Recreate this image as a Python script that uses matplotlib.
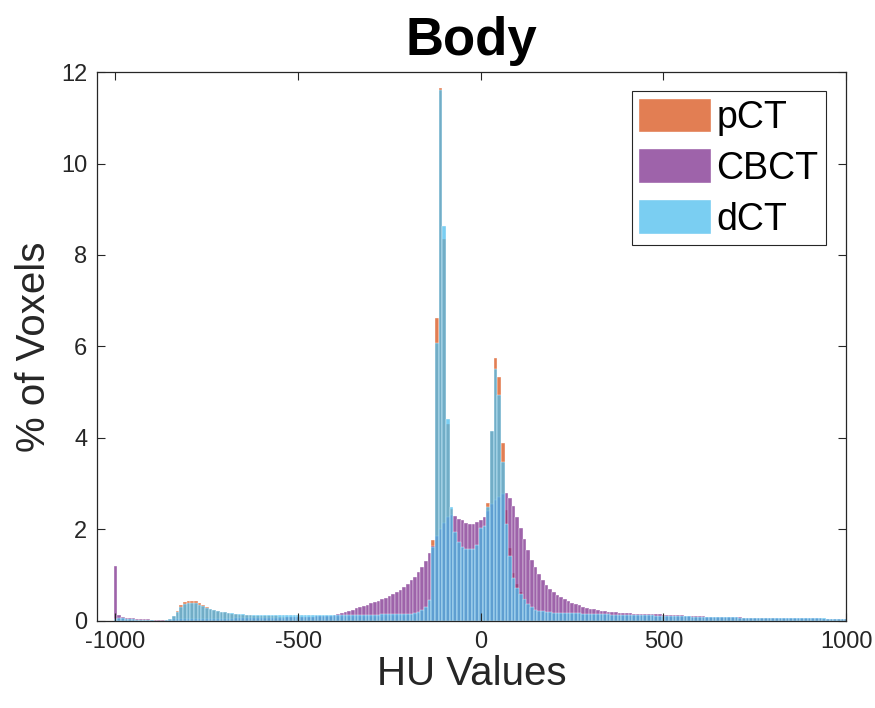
import numpy as np
import matplotlib
matplotlib.use("Agg")
import matplotlib.pyplot as plt

# bin centres, 10 HU wide, -1000 ... 1000
hu_centres = np.arange(-1000, 1001, 10)

# % of voxels per bin (rows of 10 bins = 100 HU)
pct_pCT = [
    0.05, 0.06, 0.05, 0.05, 0.04, 0.04, 0.03, 0.03, 0.02, 0.02,   # -1000
    0.02, 0.01, 0.01, 0.01, 0.02, 0.04, 0.10, 0.21, 0.34, 0.41,   # -900
    0.44, 0.44, 0.43, 0.39, 0.34, 0.30, 0.27, 0.24, 0.22, 0.20,   # -800
    0.19, 0.17, 0.16, 0.15, 0.14, 0.13, 0.12, 0.12, 0.115, 0.11,  # -700
    0.11, 0.105, 0.10, 0.10, 0.10, 0.095, 0.09, 0.09, 0.09, 0.085,  # -600
    0.085, 0.08, 0.08, 0.08, 0.08, 0.08, 0.08, 0.08, 0.08, 0.08,  # -500
    0.08, 0.08, 0.08, 0.08, 0.08, 0.085, 0.085, 0.085, 0.09, 0.09,  # -400
    0.09, 0.09, 0.095, 0.095, 0.10, 0.10, 0.10, 0.105, 0.11, 0.11,  # -300
    0.12, 0.12, 0.13, 0.16, 0.22, 0.28, 0.44, 1.77, 6.63, 11.65,  # -200
    8.35, 4.30, 2.45, 1.93, 1.70, 1.60, 1.55, 1.55, 1.55, 1.64,   # -100
    2.02, 2.06, 2.57, 4.16, 5.74, 5.34, 3.90, 2.43, 1.59, 1.05,   # 0
    0.80, 0.64, 0.50, 0.38, 0.29, 0.24, 0.21, 0.19, 0.18, 0.17,   # 100
    0.165, 0.16, 0.16, 0.155, 0.15, 0.15, 0.145, 0.145, 0.14, 0.14,  # 200
    0.135, 0.135, 0.13, 0.13, 0.125, 0.125, 0.12, 0.12, 0.115, 0.115,  # 300
    0.11, 0.11, 0.11, 0.105, 0.105, 0.10, 0.10, 0.10, 0.095, 0.095,  # 400
    0.09, 0.09, 0.09, 0.085, 0.085, 0.085, 0.08, 0.08, 0.08, 0.08,  # 500
    0.075, 0.075, 0.075, 0.075, 0.07, 0.07, 0.07, 0.07, 0.065, 0.065,  # 600
    0.065, 0.065, 0.06, 0.06, 0.06, 0.06, 0.06, 0.055, 0.055, 0.055,  # 700
    0.055, 0.05, 0.05, 0.05, 0.05, 0.05, 0.05, 0.045, 0.045, 0.045,  # 800
    0.045, 0.045, 0.04, 0.04, 0.04, 0.04, 0.04, 0.04, 0.04, 0.04,  # 900
    0.04,                                                          # 1000
]

pct_CBCT = [
    1.21, 0.12, 0.09, 0.07, 0.07, 0.06, 0.05, 0.05, 0.04, 0.04,
    0.03, 0.03, 0.03, 0.03, 0.03, 0.03, 0.04, 0.04, 0.04, 0.05,
    0.05, 0.05, 0.05, 0.05, 0.05, 0.05, 0.05, 0.05, 0.05, 0.05,
    0.05, 0.05, 0.05, 0.06, 0.06, 0.06, 0.06, 0.06, 0.06, 0.06,
    0.06, 0.06, 0.07, 0.07, 0.07, 0.07, 0.07, 0.08, 0.08, 0.08,
    0.08, 0.08, 0.09, 0.09, 0.09, 0.10, 0.10, 0.10, 0.11, 0.11,
    0.13, 0.145, 0.17, 0.20, 0.225, 0.25, 0.28, 0.30, 0.33, 0.36,
    0.39, 0.42, 0.44, 0.47, 0.51, 0.55, 0.58, 0.63, 0.68, 0.74,
    0.81, 0.89, 0.97, 1.07, 1.19, 1.32, 1.48, 1.65, 1.85, 2.00,
    2.15, 2.28, 2.32, 2.30, 2.24, 2.21, 2.15, 2.12, 2.12, 2.16,
    2.21, 2.27, 2.40, 2.55, 2.65, 2.72, 2.77, 2.79, 2.68, 2.51,
    2.28, 2.03, 1.79, 1.55, 1.33, 1.17, 1.02, 0.90, 0.79, 0.70,
    0.63, 0.57, 0.52, 0.47, 0.44, 0.40, 0.37, 0.34, 0.31, 0.29,
    0.27, 0.255, 0.24, 0.225, 0.21, 0.20, 0.195, 0.19, 0.18, 0.175,
    0.17, 0.165, 0.16, 0.16, 0.155, 0.155, 0.15, 0.15, 0.15, 0.145,
    0.14, 0.135, 0.13, 0.125, 0.12, 0.12, 0.115, 0.11, 0.11, 0.105,
    0.10, 0.10, 0.095, 0.095, 0.09, 0.09, 0.09, 0.085, 0.085, 0.08,
    0.08, 0.08, 0.075, 0.075, 0.075, 0.07, 0.07, 0.07, 0.07, 0.065,
    0.065, 0.065, 0.065, 0.06, 0.06, 0.06, 0.06, 0.06, 0.06, 0.055,
    0.055, 0.055, 0.055, 0.055, 0.05, 0.05, 0.05, 0.05, 0.05, 0.05,
    0.05,
]

pct_dCT = [
    0.05, 0.07, 0.06, 0.05, 0.05, 0.04, 0.03, 0.03, 0.02, 0.02,
    0.02, 0.01, 0.01, 0.01, 0.02, 0.04, 0.10, 0.19, 0.30, 0.37,
    0.40, 0.40, 0.39, 0.36, 0.32, 0.28, 0.26, 0.24, 0.22, 0.20,
    0.19, 0.18, 0.17, 0.16, 0.15, 0.145, 0.14, 0.14, 0.135, 0.13,
    0.13, 0.13, 0.125, 0.125, 0.125, 0.12, 0.12, 0.12, 0.12, 0.12,
    0.12, 0.12, 0.12, 0.12, 0.125, 0.125, 0.125, 0.125, 0.13, 0.13,
    0.13, 0.13, 0.13, 0.135, 0.135, 0.135, 0.135, 0.14, 0.14, 0.14,
    0.14, 0.14, 0.14, 0.145, 0.145, 0.145, 0.15, 0.15, 0.15, 0.155,
    0.16, 0.16, 0.17, 0.19, 0.24, 0.30, 0.46, 1.62, 6.07, 11.60,
    8.64, 4.42, 2.50, 1.95, 1.73, 1.62, 1.57, 1.57, 1.57, 1.66,
    2.04, 2.08, 2.50, 4.16, 5.50, 4.94, 3.48, 2.13, 1.41, 0.93,
    0.72, 0.60, 0.48, 0.38, 0.30, 0.25, 0.22, 0.21, 0.20, 0.19,
    0.185, 0.18, 0.18, 0.175, 0.17, 0.17, 0.165, 0.165, 0.16, 0.16,
    0.155, 0.155, 0.15, 0.15, 0.145, 0.145, 0.14, 0.14, 0.135, 0.135,
    0.13, 0.13, 0.13, 0.125, 0.125, 0.12, 0.12, 0.12, 0.115, 0.115,
    0.11, 0.11, 0.11, 0.105, 0.105, 0.10, 0.10, 0.10, 0.095, 0.095,
    0.09, 0.09, 0.09, 0.09, 0.085, 0.085, 0.085, 0.08, 0.08, 0.08,
    0.08, 0.075, 0.075, 0.075, 0.075, 0.07, 0.07, 0.07, 0.07, 0.07,
    0.065, 0.065, 0.065, 0.065, 0.06, 0.06, 0.06, 0.06, 0.06, 0.06,
    0.055, 0.055, 0.055, 0.055, 0.055, 0.05, 0.05, 0.05, 0.05, 0.05,
    0.05,
]

series_names = ["pCT", "CBCT", "dCT"]
series_colors = [(0.85, 0.325, 0.098), (0.494, 0.184, 0.556), (0.301, 0.745, 0.933)]

axis_grey = "#262626"
plt.rcParams["font.family"] = ["Liberation Sans", "DejaVu Sans"]
plt.rcParams["axes.unicode_minus"] = False

fig = plt.figure(figsize=(8.75, 7.08), dpi=100)
ax = fig.add_axes([0.111, 0.1229, 0.856, 0.7754])

# overlapping histograms, drawn in order pCT -> CBCT -> dCT
for vals, name, col in zip([pct_pCT, pct_CBCT, pct_dCT], series_names, series_colors):
    ax.bar(hu_centres, vals, width=10, color=col, alpha=0.75,
           edgecolor="white", linewidth=0.35, label=name)

ax.set_xlim(-1050, 1000)
ax.set_ylim(0, 12)
ax.set_xticks([-1000, -500, 0, 500, 1000])
ax.set_yticks(np.arange(0, 13, 2))

ax.tick_params(direction="in", length=5.5, width=0.8, colors=axis_grey,
               top=True, right=True, labelsize=17)
ax.tick_params(axis="x", pad=7)
ax.tick_params(axis="y", pad=7)
for sp in ax.spines.values():
    sp.set_color(axis_grey)
    sp.set_linewidth(0.9)

ax.set_xlabel("HU Values", fontsize=29, color=axis_grey, labelpad=2)
ax.set_ylabel("% of Voxels", fontsize=29, color=axis_grey, labelpad=6)
ax.set_title("Body", fontsize=38, fontweight="bold", pad=12)

leg = ax.legend(loc="upper right", bbox_to_anchor=(0.973, 0.965), borderaxespad=0,
                fontsize=27, handlelength=1.9, handleheight=1.0, handletextpad=0.15,
                labelspacing=0.35, borderpad=0.2, fancybox=False, framealpha=1)
leg.get_frame().set_edgecolor(axis_grey)
leg.get_frame().set_linewidth(0.8)

fig.savefig("out.png", dpi=100)
